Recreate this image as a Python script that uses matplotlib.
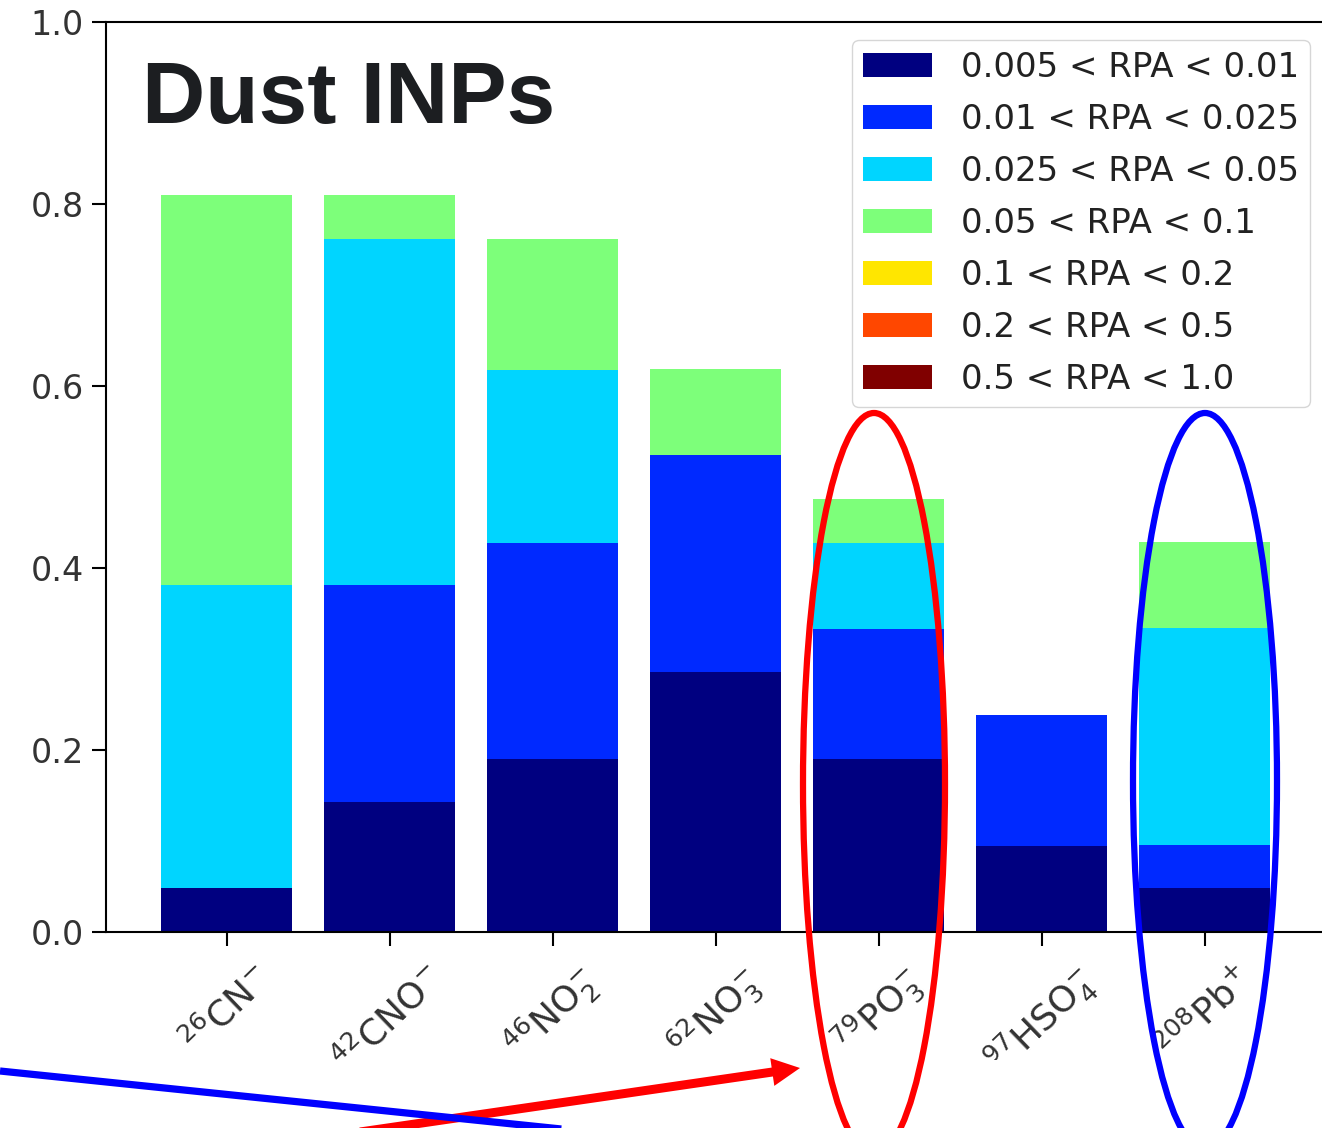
import numpy as np
import matplotlib
matplotlib.use("Agg")
import matplotlib.pyplot as plt
from matplotlib.patches import Ellipse, FancyArrow, Rectangle

# ---------------- data ----------------
categories = [r"$^{26}\mathrm{CN}^{-}$", r"$^{42}\mathrm{CNO}^{-}$", r"$^{46}\mathrm{NO}_2^{-}$",
              r"$^{62}\mathrm{NO}_3^{-}$", r"$^{79}\mathrm{PO}_3^{-}$", r"$^{97}\mathrm{HSO}_4^{-}$",
              r"$^{208}\mathrm{Pb}^{+}$"]
series_labels = ["0.005 < RPA < 0.01", "0.01 < RPA < 0.025", "0.025 < RPA < 0.05",
                 "0.05 < RPA < 0.1", "0.1 < RPA < 0.2", "0.2 < RPA < 0.5", "0.5 < RPA < 1.0"]
rpa_0005_001 = [0.048, 0.143, 0.190, 0.286, 0.190, 0.095, 0.048]
rpa_001_0025 = [0.000, 0.238, 0.238, 0.238, 0.143, 0.143, 0.048]
rpa_0025_005 = [0.333, 0.381, 0.190, 0.000, 0.095, 0.000, 0.238]
rpa_005_01 = [0.429, 0.048, 0.143, 0.095, 0.048, 0.000, 0.095]
rpa_01_02 = [0.0, 0.0, 0.0, 0.0, 0.0, 0.0, 0.0]
rpa_02_05 = [0.0, 0.0, 0.0, 0.0, 0.0, 0.0, 0.0]
rpa_05_10 = [0.0, 0.0, 0.0, 0.0, 0.0, 0.0, 0.0]
yticks = [0.0, 0.2, 0.4, 0.6, 0.8, 1.0]
title = "Dust INPs"

series = [rpa_0005_001, rpa_001_0025, rpa_0025_005, rpa_005_01, rpa_01_02, rpa_02_05, rpa_05_10]

# ---------------- figure ----------------
W, H = 1322, 1128
fig = plt.figure(figsize=(W / 100, H / 100), dpi=100)
ax = fig.add_axes([106 / W, 1 - 932 / H, 1 - 106 / W, (932 - 22) / H])

colors = plt.cm.jet(np.linspace(0, 1, len(series)))
x = np.arange(len(categories))
bottom = np.zeros(len(categories))
for vals, lab, c in zip(series, series_labels, colors):
    ax.bar(x, vals, width=0.8, bottom=bottom, color=c, label=lab)
    bottom += np.array(vals)

ax.set_xlim(-0.74, 6.72)
ax.set_ylim(0, 1.0)
ax.set_yticks(yticks)
ax.set_yticklabels([f"{t:.1f}" for t in yticks])
ax.set_xticks(x)
ax.set_xticklabels(categories, rotation=44, fontsize=26, color="#333333")
ax.tick_params(axis="y", labelsize=24, length=10, width=1.5, pad=6, labelcolor="#333333")
ax.tick_params(axis="x", length=10, width=1.5, pad=10)
ax.spines["right"].set_visible(False)
for s in ["left", "top", "bottom"]:
    ax.spines[s].set_linewidth(1.5)

leg = ax.legend(loc="upper right", bbox_to_anchor=(1310 / W, 1 - 40 / H),
                bbox_transform=fig.transFigure, borderaxespad=0, fontsize=24.5,
                labelspacing=0.56, handlelength=2.03, handleheight=0.7, handletextpad=0.85,
                borderpad=0.32, framealpha=0.8)
for t in leg.get_texts():
    t.set_color("#222222")

fig.text(142 / W, 1 - 123 / H, title, fontsize=63, fontweight="bold",
         family="Liberation Sans", color="#1c1e21", ha="left", va="baseline")

# ---------------- annotation overlay (pixel coordinates) ----------------
ov = fig.add_axes([0, 0, 1, 1], facecolor="none")
ov.set_xlim(0, W)
ov.set_ylim(H, 0)
ov.axis("off")
ov.add_patch(Rectangle((0, 1060), W, 80, facecolor="white", edgecolor="none"))
ov.add_patch(Ellipse((874, 784), 142, 742, fill=False, edgecolor="#ff0000", lw=4.5))
ov.add_patch(Ellipse((1205, 781), 144, 736, fill=False, edgecolor="#0000ff", lw=4.5))
ov.plot([0, 600], [1071, 1133], color="#0000ff", lw=5.2, solid_capstyle="butt")
ov.add_patch(FancyArrow(360, 1132, 440, -64, width=9, head_width=28, head_length=28,
                        length_includes_head=True, color="#ff0000", lw=0))

fig.savefig("out.png", dpi=100)
